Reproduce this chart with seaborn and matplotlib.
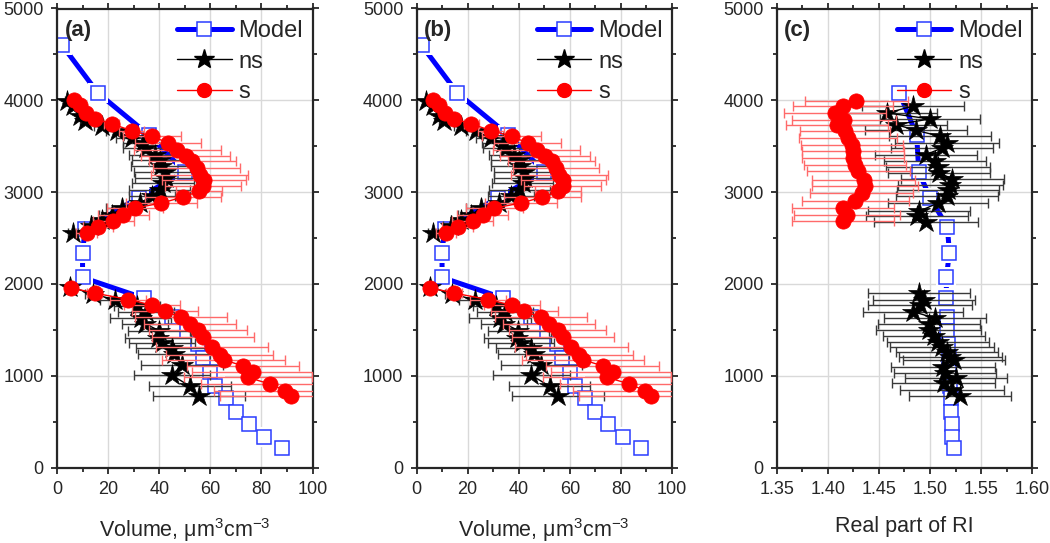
import numpy as np
import matplotlib
matplotlib.use("Agg")
import matplotlib.pyplot as plt
from matplotlib.lines import Line2D
from matplotlib.ticker import MultipleLocator, FormatStrFormatter
import seaborn as sns

# ── Data ────────────────────────────────────────────────────────────────────
# Panel (a)/(b): volume concentration profiles
MODEL_VOL_Y = [4600, 4080, 3620, 3220, 2940, 2600, 2340, 2070, 1845, 1640,
               1490, 1340, 1190, 1040, 890, 755, 610, 470, 335, 210]
MODEL_VOL_X = [2, 16, 36, 50, 32, 11, 10, 10, 34, 45,
               51, 55, 57, 60, 62, 66, 70, 75, 81, 88]

NS_UP_Y = [3989, 3935, 3826, 3771, 3717, 3662, 3590, 3535, 3481, 3408, 3353, 3280,
           3215, 3154, 3099, 3026, 2953, 2881, 2826, 2753, 2691, 2626, 2554]
NS_UP_X = [3.8, 6.4, 9, 10.9, 17.5, 23.3, 29.2, 33.7, 35, 38.3, 40.2, 40.6,
           42.2, 42.5, 41.5, 40.2, 37, 32.4, 25.3, 21.4, 17.5, 13.5, 6.4]
NS_UP_ERR = [0.5, 1, 1.5, 2, 3, 4, 6, 8, 9, 10, 11, 11.5,
             12, 12, 12, 12, 9, 7, 6, 5, 4, 3, 2]
NS_LO_Y = [1965, 1892, 1825, 1758, 1690, 1625, 1568, 1492, 1415, 1360, 1299, 1240,
           1118, 1005, 885, 780]
NS_LO_X = [5.2, 14, 22.8, 31.2, 34.7, 32.7, 34.3, 39.9, 39.5, 41, 45, 45.8,
           48.9, 45, 52.1, 55.4]
NS_LO_ERR = [1, 3, 6, 9, 11, 12, 9, 12, 13, 13, 14, 14, 16, 15, 16, 18]

S_UP_Y = [4008, 3953, 3862, 3797, 3743, 3670, 3608, 3535, 3462, 3390, 3335, 3263,
          3190, 3135, 3062, 3008, 2946, 2881, 2826, 2753, 2681, 2615, 2554]
S_UP_X = [6.5, 9, 11.2, 14.8, 21.4, 29.2, 37.2, 43.5, 47.1, 50.3, 52.9, 54.6,
          55.9, 57.5, 57.2, 55.5, 49.3, 40.9, 30.5, 25.9, 22, 16.1, 11.6]
S_UP_ERR = [0.5, 1, 1.5, 2, 3, 5, 11.5, 13, 17, 17.5, 17, 17,
            19, 16.5, 15, 9, 15, 14, 11, 10, 8, 6, 4]
S_LO_Y = [1958, 1900, 1830, 1768, 1703, 1635, 1568, 1499, 1426, 1314, 1227, 1172,
          1108, 1045, 981, 911, 838, 782]
S_LO_X = [5.4, 14.7, 27.9, 37.3, 42.2, 48.6, 51.9, 55.2, 57.2, 60.6, 63.7, 65.2,
          72.8, 76.8, 74.7, 83.2, 89.4, 91.7]
S_LO_ERR = [1, 3, 7, 11, 13, 18, 18, 19, 20, 22, 21, 24,
            22, 24, 25, 27, 28, 28]

# Panel (c): real part of refractive index
MODEL_RI_Y = [4080, 3620, 3220, 2940, 2620, 2340, 2070, 1845, 1640, 1490,
              1340, 1190, 1040, 890, 755, 610, 470, 335, 210]
MODEL_RI_X = [1.470, 1.487, 1.489, 1.500, 1.517, 1.519, 1.516, 1.516, 1.517, 1.517,
              1.518, 1.519, 1.519, 1.520, 1.521, 1.521, 1.522, 1.522, 1.523]

NS_RI_UP_Y = [3935, 3862, 3797, 3735, 3673, 3608, 3535, 3481, 3408, 3335,
              3274, 3208, 3146, 3081, 3019, 2953, 2881, 2790, 2743, 2674]
NS_RI_UP_X = [1.483, 1.458, 1.500, 1.467, 1.486, 1.510, 1.517, 1.512, 1.496, 1.505,
              1.5075, 1.5085, 1.522, 1.520, 1.518, 1.517, 1.508, 1.489, 1.487, 1.496]
NS_RI_UP_ERR = [0.050, 0.049, 0.049, 0.050, 0.050, 0.050, 0.051, 0.050, 0.050, 0.050,
                0.051, 0.050, 0.050, 0.051, 0.050, 0.050, 0.049, 0.050, 0.050, 0.051]
NS_RI_LO_Y = [1900, 1827, 1772, 1699, 1627, 1560, 1499, 1434, 1370, 1317,
              1263, 1208, 1172, 1099, 1027, 975, 918, 845, 775]
NS_RI_LO_X = [1.489, 1.494, 1.4905, 1.483, 1.505, 1.499, 1.4986, 1.5036, 1.508, 1.5118,
              1.5167, 1.520, 1.5232, 1.513, 1.515, 1.5255, 1.5133, 1.5216, 1.529]
NS_RI_LO_ERR = [0.050, 0.050, 0.051, 0.049, 0.050, 0.050, 0.051, 0.050, 0.050, 0.051,
                0.050, 0.050, 0.050, 0.051, 0.050, 0.050, 0.050, 0.051, 0.050]

S_RI_Y = [3997, 3935, 3862, 3790, 3735, 3662, 3590, 3517, 3444, 3372,
          3299, 3226, 3135, 3062, 2990, 2899, 2826, 2753, 2688]
S_RI_X = [1.428, 1.415, 1.407, 1.416, 1.409, 1.417, 1.420, 1.4235, 1.4245, 1.425,
          1.427, 1.430, 1.435, 1.4365, 1.433, 1.427, 1.415, 1.419, 1.415]
S_RI_ERR = [0.050, 0.049, 0.050, 0.051, 0.050, 0.044, 0.048, 0.050, 0.050, 0.050,
            0.050, 0.050, 0.050, 0.052, 0.050, 0.052, 0.050, 0.052, 0.050]

PANELS = ["(a)", "(b)", "(c)"]
XLABEL_VOL = r"Volume, $\mathregular{\mu m^3cm^{-3}}$"
XLABEL_RI = "Real part of RI"

# ── Style ────────────────────────────────────────────────────────────────────
sns.set_style("ticks")
plt.rcParams["font.family"] = ["Liberation Sans", "DejaVu Sans"]
plt.rcParams["mathtext.fontset"] = "custom"
plt.rcParams["mathtext.rm"] = "Liberation Sans"
plt.rcParams["mathtext.it"] = "Liberation Sans"

BLUE = "#0000ff"
SQ_EDGE = "#2a3cff"
RED = "#ff0000"
RED_ERR = "#ff6a6a"
BLACK_ERR = "#3a3a3a"
GRID = "#d9d9d9"

MS_SQ, MS_STAR, MS_DOT = 10.5, 16, 11


def line(ax, x, y, **kw):
    sns.lineplot(x=x, y=y, sort=False, estimator=None, ax=ax, **kw)


def draw_model(ax, x, y):
    line(ax, x, y, color=BLUE, lw=3.6, zorder=2)
    # white halo around squares -> line gap at symbols
    line(ax, x, y, color="none", lw=0, marker="s", ms=MS_SQ + 4.5, mfc="white",
         mec="white", mew=0, zorder=2.1)
    line(ax, x, y, color="none", lw=0, marker="s", ms=MS_SQ, mfc="white",
         mec=SQ_EDGE, mew=1.1, zorder=2.2)


def draw_ns(ax, x, y, err):
    ax.errorbar(x, y, xerr=err, fmt="none", ecolor=BLACK_ERR, elinewidth=1,
                capsize=3.8, capthick=1, zorder=3)
    line(ax, x, y, color="black", lw=1, marker="*", ms=MS_STAR, mfc="black",
         mec="black", mew=0.5, zorder=4)


def draw_s(ax, x, y, err):
    ax.errorbar(x, y, xerr=err, fmt="none", ecolor=RED_ERR, elinewidth=1,
                capsize=3.8, capthick=1, zorder=5)
    line(ax, x, y, color=RED, lw=1, marker="o", ms=MS_DOT, mfc=RED, mec=RED,
         mew=0.5, zorder=6)


fig = plt.figure(figsize=(10.5, 5.43), dpi=100)
lefts = [57 / 1050, 416.5 / 1050, 776.7 / 1050]
axes = [fig.add_axes([l, 1 - 467.5 / 543, 255.5 / 1050, 459 / 543]) for l in lefts]

for i, ax in enumerate(axes):
    if i < 2:
        draw_model(ax, MODEL_VOL_X, MODEL_VOL_Y)
        draw_ns(ax, NS_UP_X, NS_UP_Y, NS_UP_ERR)
        draw_ns(ax, NS_LO_X, NS_LO_Y, NS_LO_ERR)
        draw_s(ax, S_UP_X, S_UP_Y, S_UP_ERR)
        draw_s(ax, S_LO_X, S_LO_Y, S_LO_ERR)
        ax.set_xlim(0, 100)
        ax.xaxis.set_major_locator(MultipleLocator(20))
        ax.xaxis.set_minor_locator(MultipleLocator(10))
        ax.set_xlabel(XLABEL_VOL, fontsize=15.5, labelpad=13)
    else:
        draw_model(ax, MODEL_RI_X, MODEL_RI_Y)
        draw_ns(ax, NS_RI_UP_X, NS_RI_UP_Y, NS_RI_UP_ERR)
        draw_ns(ax, NS_RI_LO_X, NS_RI_LO_Y, NS_RI_LO_ERR)
        draw_s(ax, S_RI_X, S_RI_Y, S_RI_ERR)
        ax.set_xlim(1.35, 1.60)
        ax.xaxis.set_major_locator(MultipleLocator(0.05))
        ax.xaxis.set_minor_locator(MultipleLocator(0.025))
        ax.xaxis.set_major_formatter(FormatStrFormatter("%.2f"))
        ax.set_xlabel(XLABEL_RI, fontsize=15.5, labelpad=13)

    ax.set_ylim(0, 5000)
    ax.yaxis.set_major_locator(MultipleLocator(1000))
    ax.yaxis.set_minor_locator(MultipleLocator(500))
    ax.set_ylabel("")
    ax.grid(which="major", color=GRID, lw=1)
    ax.set_axisbelow(True)
    for sp in ax.spines.values():
        sp.set_visible(True)
        sp.set_linewidth(1.6)
    ax.tick_params(which="both", direction="out", top=True, right=True,
                   width=1.3, labelsize=13)
    ax.tick_params(which="major", length=4.5, pad=5)
    ax.tick_params(which="minor", length=3)

    ax.text(0.03, 0.975, PANELS[i], transform=ax.transAxes, fontsize=16,
            fontweight="bold", va="top", ha="left")

    handles = [
        Line2D([], [], color=BLUE, lw=3.6, marker="s", ms=MS_SQ, mfc="white",
               mec=SQ_EDGE, mew=1.1),
        Line2D([], [], color="black", lw=1, marker="*", ms=MS_STAR - 1, mfc="black",
               mec="black"),
        Line2D([], [], color=RED, lw=1, marker="o", ms=MS_DOT - 1, mfc=RED, mec=RED),
    ]
    ax.legend(handles, ["Model", "ns", "s"], loc="upper right",
              bbox_to_anchor=(1.01, 1.0), frameon=False, fontsize=17,
              handlelength=2.3, handletextpad=0.3, labelspacing=0.35,
              borderaxespad=0.1)

fig.savefig("out.png", dpi=100)
